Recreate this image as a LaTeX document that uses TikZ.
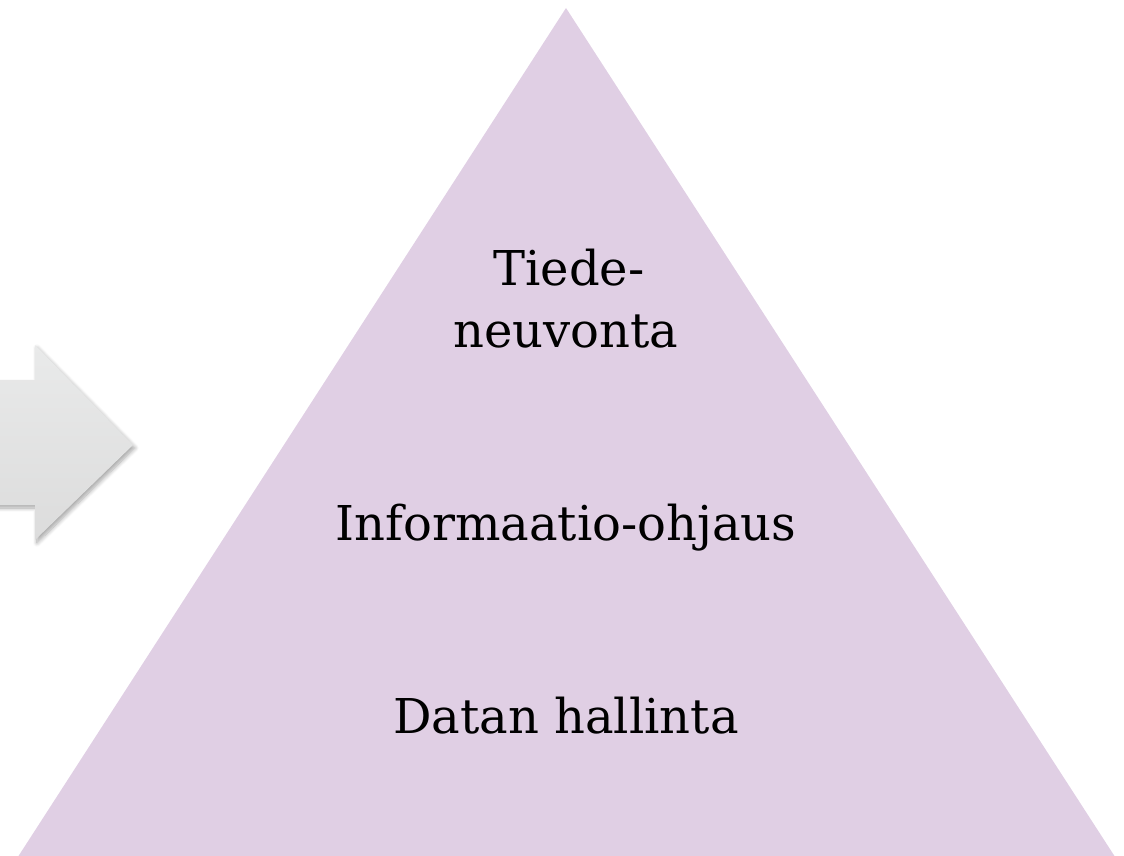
\documentclass[tikz,border=0pt]{standalone}
\usepackage{fontspec}
\setmainfont{DejaVu Serif}
\usetikzlibrary{shadows.blur}
\definecolor{pyr}{RGB}{224,207,228}
\definecolor{arrtop}{RGB}{233,234,234}
\definecolor{arrbot}{RGB}{220,220,220}
\begin{document}
\begin{tikzpicture}[x=1pt,y=-1pt,
  lbl/.style={font=\fontsize{48}{62}\selectfont, anchor=base, inner sep=0pt, text=black}]
\useasboundingbox (0,0) rectangle (1124,856);
\clip (0,0) rectangle (1124,856);
% pyramid
\fill[pyr] (566,8) -- (1130,880) -- (3,880) -- cycle;
% arrow
\shade[top color=arrtop, bottom color=arrbot,
  blur shadow={shadow xshift=2pt, shadow yshift=-3pt, shadow blur steps=8, shadow blur radius=4pt, shadow opacity=35}]
  (-20,380) -- (35,380) -- (35,345) -- (133,445) -- (35,540) -- (35,505) -- (-20,505) -- cycle;
% labels
\node[lbl] (tiede) at (569,285) {Tiede-};
\node[lbl] (neuv) at (566,347) {neuvonta};
\node[lbl] (info) at (566,540) {Informaatio-ohjaus};
\node[lbl] (data) at (566,733) {Datan hallinta};
\end{tikzpicture}
\end{document}
